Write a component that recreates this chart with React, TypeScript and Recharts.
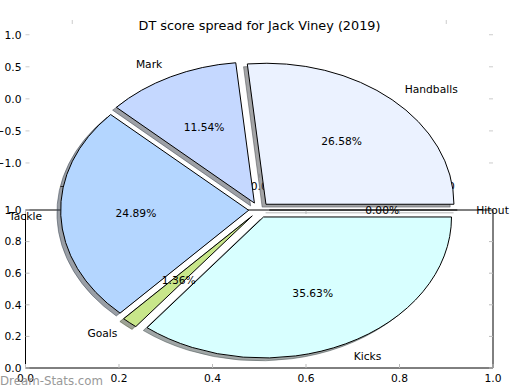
import { ComposedChart, XAxis, YAxis, Line, PieChart, Pie, Cell } from "recharts";

const FONT = "'DejaVu Sans', sans-serif";

const categories = ["Handballs", "Mark", "Tackle", "Goals", "Kicks", "Hitout"];
const shares = [26.58, 11.54, 24.89, 1.36, 35.63, 0.0];
const sliceColors = ["#ebf2ff", "#c5d8ff", "#b4d6ff", "#c8e68a", "#d8ffff", "#ffd9d9"];
const unitTicks = [0, 0.2, 0.4, 0.6, 0.8, 1];
const signedTicks = [-1, -0.5, 0, 0.5, 1];

const pieData = categories.map((name, i) => ({ name, value: shares[i] }));
// the two empty axes only need something to hang their scales on
const unitFrame = unitTicks.map((v) => ({ x: v, y: v }));
const signedFrame = signedTicks.map((v) => ({ x: v, y: v }));

// the pie gets squashed into an ellipse, like the matplotlib original
const CX = 259, CY = 210, RX = 188, RY = 141;
const K = RY / RX;
const EXPLODE = 0.055;
const SHADOW = 0.02;

const total = shares.reduce((a, b) => a + b, 0);
const midAngles: number[] = [];
let acc = 0;
for (const v of shares) {
  midAngles.push(((acc + v / 2) / total) * 360);
  acc += v;
}

function sliceTransform(i: number, shadow: boolean) {
  const rad = (midAngles[i] * Math.PI) / 180;
  let dx = EXPLODE * RX * Math.cos(rad);
  let dy = -EXPLODE * RY * Math.sin(rad);
  if (shadow) {
    dx -= SHADOW * RX;
    dy += SHADOW * RY;
  }
  return `translate(${dx} ${CY + dy}) scale(1 ${K}) translate(0 ${-CY})`;
}

function shadowOf(hex: string) {
  const n = parseInt(hex.slice(1), 16);
  const r = Math.round(((n >> 16) & 255) * 0.3);
  const g = Math.round(((n >> 8) & 255) * 0.3);
  const b = Math.round((n & 255) * 0.3);
  return `rgb(${r},${g},${b})`;
}

const fmtUnit = (v: number) => v.toFixed(1);
const fmtSigned = (v: number) => (v < 0 ? "\u2212" + Math.abs(v).toFixed(1) : v.toFixed(1));

function AxisTick(props: any) {
  const { x, y, payload, side, color, fmt, gap } = props;
  const len = 4;
  let line = null;
  let text = null;
  if (side === "bottom") {
    line = <line x1={x} y1={y} x2={x} y2={y - len} stroke={color} />;
    if (fmt) text = <text x={x} y={y + gap} textAnchor="middle">{fmt(payload.value)}</text>;
  } else if (side === "top") {
    line = <line x1={x} y1={y} x2={x} y2={y + len} stroke={color} />;
  } else if (side === "left") {
    line = <line x1={x} y1={y} x2={x + len} y2={y} stroke={color} />;
    if (fmt) text = <text x={x - gap} y={y} dy="0.36em" textAnchor="end">{fmt(payload.value)}</text>;
  } else {
    line = <line x1={x} y1={y} x2={x - len} y2={y} stroke={color} />;
  }
  return (
    <g style={{ fontFamily: FONT, fontSize: 10.7, fill: "#000" }}>
      {line}
      {text}
    </g>
  );
}

const renderLabel = (p: any) => {
  const { cx, cy, midAngle, outerRadius, index, value, name } = p;
  const a = (midAngle * Math.PI) / 180;
  const c = Math.cos(a);
  const s = Math.sin(a);
  const ex = cx + EXPLODE * outerRadius * c;
  const ey = cy - EXPLODE * outerRadius * K * s;
  const nx = ex + 1.1 * outerRadius * c;
  const ny = ey - 1.1 * outerRadius * K * s;
  const px = ex + 0.6 * outerRadius * c;
  const py = ey - 0.6 * outerRadius * K * s;
  const ox = ex + outerRadius * c;
  const oy = ey - outerRadius * K * s;
  return (
    <g key={`lbl-${index}`} style={{ fontFamily: FONT, fontSize: 10.7 }}>
      {value === 0 && (
        <>
          <line x1={ex - SHADOW * RX} y1={ey + SHADOW * RY} x2={ox - SHADOW * RX} y2={oy + SHADOW * RY}
            stroke="#b8b8b8" />
          <line x1={ex} y1={ey} x2={ox} y2={oy} stroke="#000" />
        </>
      )}
      <text x={nx} y={ny} dy="0.36em" textAnchor={nx > cx ? "start" : "end"} fill="#000">{name}</text>
      <text x={px} y={py} dy="0.36em" textAnchor="middle" fill="#000">{value.toFixed(2)}%</text>
    </g>
  );
};

// box = [left, top, right, bottom] of the plot area in px; axes get 1px of size so they draw
function Frame({ data, xDomain, yDomain, xTicks, yTicks, box, spine, tickColor, fmt, bottomGap }: any) {
  const [l, t, r, b] = box;
  const margin = { left: l - 1, top: t - 1, right: 520 - r - 1, bottom: 390 - b - 1 };
  const common = { type: "number" as const, interval: 0 as const, tickSize: 0, tickMargin: 0, tickLine: false };
  const axisLine = spine ? { stroke: "#000" } : false;
  return (
    <ComposedChart width={520} height={390} data={data} margin={margin}>
      <XAxis {...common} xAxisId={0} dataKey="x" domain={xDomain} ticks={xTicks} height={1} axisLine={axisLine}
        allowDataOverflow
        tick={(p: any) => <AxisTick {...p} side="bottom" color={tickColor} fmt={fmt} gap={bottomGap} />} />
      <XAxis {...common} xAxisId={1} dataKey="x" orientation="top" domain={xDomain} ticks={xTicks} height={1}
        axisLine={axisLine} allowDataOverflow
        tick={(p: any) => <AxisTick {...p} side="top" color={tickColor} />} />
      <YAxis {...common} yAxisId={0} dataKey="y" domain={yDomain} ticks={yTicks} width={1} axisLine={axisLine}
        allowDataOverflow
        tick={(p: any) => <AxisTick {...p} side="left" color={tickColor} fmt={fmt} gap={4} />} />
      <YAxis {...common} yAxisId={1} dataKey="y" orientation="right" domain={yDomain} ticks={yTicks} width={1}
        axisLine={axisLine} allowDataOverflow
        tick={(p: any) => <AxisTick {...p} side="right" color={tickColor} />} />
      <Line xAxisId={0} yAxisId={0} dataKey="y" stroke="none" dot={false} activeDot={false}
        isAnimationActive={false} />
      <Line xAxisId={1} yAxisId={1} dataKey="y" stroke="none" dot={false} activeDot={false}
        isAnimationActive={false} />
    </ComposedChart>
  );
}

export default function App() {
  const layer: React.CSSProperties = { position: "absolute", left: 0, top: 0 };
  return (
    <div style={{ position: "relative", width: 520, height: 390, background: "#fff", overflow: "hidden" }}>
      <style>{`body{margin:0} .recharts-sector{vector-effect:non-scaling-stroke}`}</style>

      {/* lower (empty) axes */}
      <div style={layer}>
        <Frame data={unitFrame} xDomain={[0, 1]} yDomain={[0, 1]} xTicks={unitTicks} yTicks={unitTicks}
          box={[25.5, 210, 493, 368]} spine tickColor="#bbb" fmt={fmtUnit} bottomGap={14} />
      </div>

      {/* upper axes, frame switched off */}
      <div style={layer}>
        <Frame data={signedFrame} xDomain={[-1.25, 1.25]} yDomain={[-1.23, 1.23]} xTicks={signedTicks}
          yTicks={signedTicks} box={[25.5, 20, 493, 177.7]} spine={false} tickColor="#ccc" fmt={fmtSigned}
          bottomGap={12.3} />
      </div>

      {/* exploded pie with shadows */}
      <div style={layer}>
        <PieChart width={520} height={390} margin={{ top: 0, right: 0, bottom: 0, left: 0 }}>
          <Pie data={pieData} dataKey="value" nameKey="name" cx={CX} cy={CY} outerRadius={RX}
            startAngle={0} endAngle={360} label={false} labelLine={false} isAnimationActive={false}>
            {pieData.map((d, i) => (
              <Cell key={`s-${d.name}`} fill={shadowOf(sliceColors[i])} stroke={shadowOf(sliceColors[i])}
                fillOpacity={0.5} strokeOpacity={0.5} transform={sliceTransform(i, true)} />
            ))}
          </Pie>
          <Pie data={pieData} dataKey="value" nameKey="name" cx={CX} cy={CY} outerRadius={RX}
            startAngle={0} endAngle={360} label={false} labelLine={false} isAnimationActive={false}>
            {pieData.map((d, i) => (
              <Cell key={`w-${d.name}`} fill={sliceColors[i]} stroke="#000" strokeWidth={1}
                transform={sliceTransform(i, false)} />
            ))}
          </Pie>
          <Pie data={pieData} dataKey="value" nameKey="name" cx={CX} cy={CY} outerRadius={RX}
            startAngle={0} endAngle={360} fill="none" stroke="none" label={renderLabel} labelLine={false}
            isAnimationActive={false} />
        </PieChart>
      </div>

      <svg width={520} height={390} style={{ ...layer, pointerEvents: "none" }}>
        <text x={259.5} y={30} textAnchor="middle" style={{ fontFamily: FONT, fontSize: 12.8 }} fill="#000">
          DT score spread for Jack Viney (2019)
        </text>
        <text x={0} y={385} style={{ fontFamily: FONT, fontSize: 11.8 }} fill="#999">
          Dream-Stats.com
        </text>
      </svg>
    </div>
  );
}
